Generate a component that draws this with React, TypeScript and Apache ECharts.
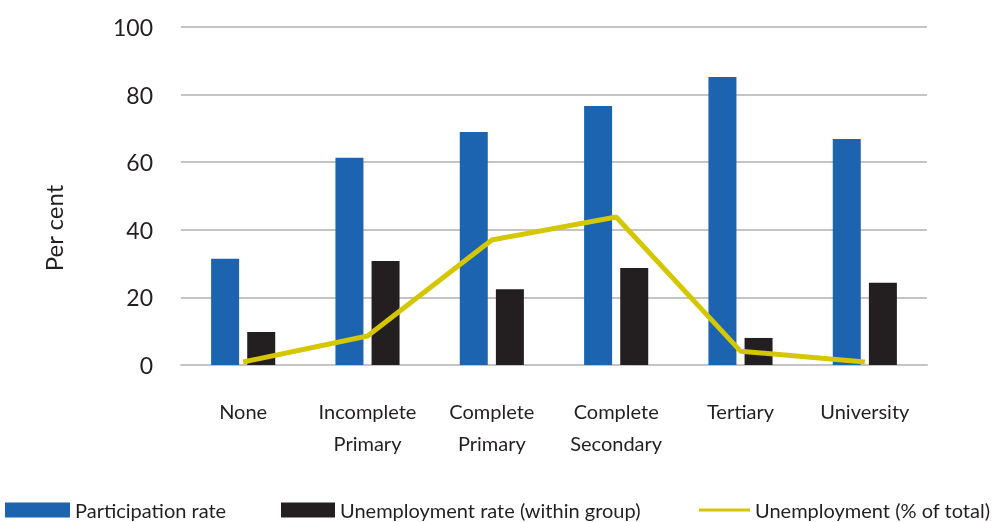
import React, { useEffect, useRef } from "react";
import * as echarts from "echarts";

const categories = ["None", "Incomplete\nPrimary", "Complete\nPrimary", "Complete\nSecondary", "Tertiary", "University"];
const participationRate = [31.4, 61.3, 68.9, 76.6, 85.2, 66.9];
const unemploymentWithin = [9.8, 30.8, 22.4, 28.7, 8.0, 24.3];
const unemploymentTotal = [0.9, 8.6, 37.0, 43.8, 4.1, 0.9];
const yTicks = { min: 0, max: 100, interval: 20 };

const FONT = "Lato, 'Open Sans', sans-serif";
const TEXT = "#231f20";
const BLUE = "#1c63b0";
const BLACK = "#231f20";
const YELLOW = "#d4c600";

export default function App() {
  const ref = useRef<HTMLDivElement>(null);
  useEffect(() => {
    if (!ref.current) return;
    const chart = echarts.init(ref.current, undefined, { renderer: "svg" });
    const legendText = { fontSize: 20, color: TEXT, fontFamily: FONT };
    chart.setOption({
      animation: false,
      textStyle: { fontFamily: FONT, color: TEXT },
      grid: { left: 181, right: 69, top: 27, bottom: 157 },
      graphic: [
        {
          type: "text",
          x: 53,
          y: 228,
          rotation: Math.PI / 2,
          style: {
            text: "Per cent",
            fontSize: 24,
            fontFamily: FONT,
            fill: TEXT,
            align: "center",
            verticalAlign: "middle",
          },
        },
      ],
      legend: [
        {
          left: 0, bottom: -3, itemWidth: 65, itemHeight: 15, icon: "rect",
          data: ["Participation rate"],
          textStyle: legendText,
        },
        {
          left: 276, bottom: -3, itemWidth: 54, itemHeight: 15, icon: "rect",
          data: ["Unemployment rate (within group)"],
          textStyle: legendText,
        },
        {
          left: 694, bottom: -3, itemWidth: 51, itemHeight: 15,
          data: [{ name: "Unemployment (% of total)", icon: "path://M0,6 L51,6 L51,9 L0,9 Z" }],
          textStyle: legendText,
        },
      ],
      xAxis: {
        type: "category",
        data: categories,
        axisLine: { show: true, lineStyle: { color: "#c4c4c4", width: 2 } },
        axisTick: { show: false },
        axisLabel: { interval: 0, fontSize: 20, lineHeight: 32, color: TEXT, margin: 30, fontFamily: FONT },
      },
      yAxis: {
        type: "value",
        min: yTicks.min,
        max: yTicks.max,
        interval: yTicks.interval,
        axisLine: { show: false },
        axisTick: { show: false },
        axisLabel: { fontSize: 23, color: TEXT, margin: 28, fontFamily: FONT },
        splitLine: { lineStyle: { color: "#c4c4c4", width: 2 } },
      },
      series: [
        {
          name: "Participation rate",
          type: "bar",
          data: participationRate,
          barWidth: 28,
          barGap: "29%",
          itemStyle: { color: BLUE },
        },
        {
          name: "Unemployment rate (within group)",
          type: "bar",
          data: unemploymentWithin,
          barWidth: 28,
          barGap: "29%",
          itemStyle: { color: BLACK },
        },
        {
          name: "Unemployment (% of total)",
          type: "line",
          data: unemploymentTotal,
          symbol: "none",
          lineStyle: { color: YELLOW, width: 5 },
          itemStyle: { color: YELLOW },
        },
      ],
    });
    return () => chart.dispose();
  }, []);
  return <div ref={ref} style={{ position: "fixed", left: 0, top: 0, width: 996, height: 522 }} />;
}
